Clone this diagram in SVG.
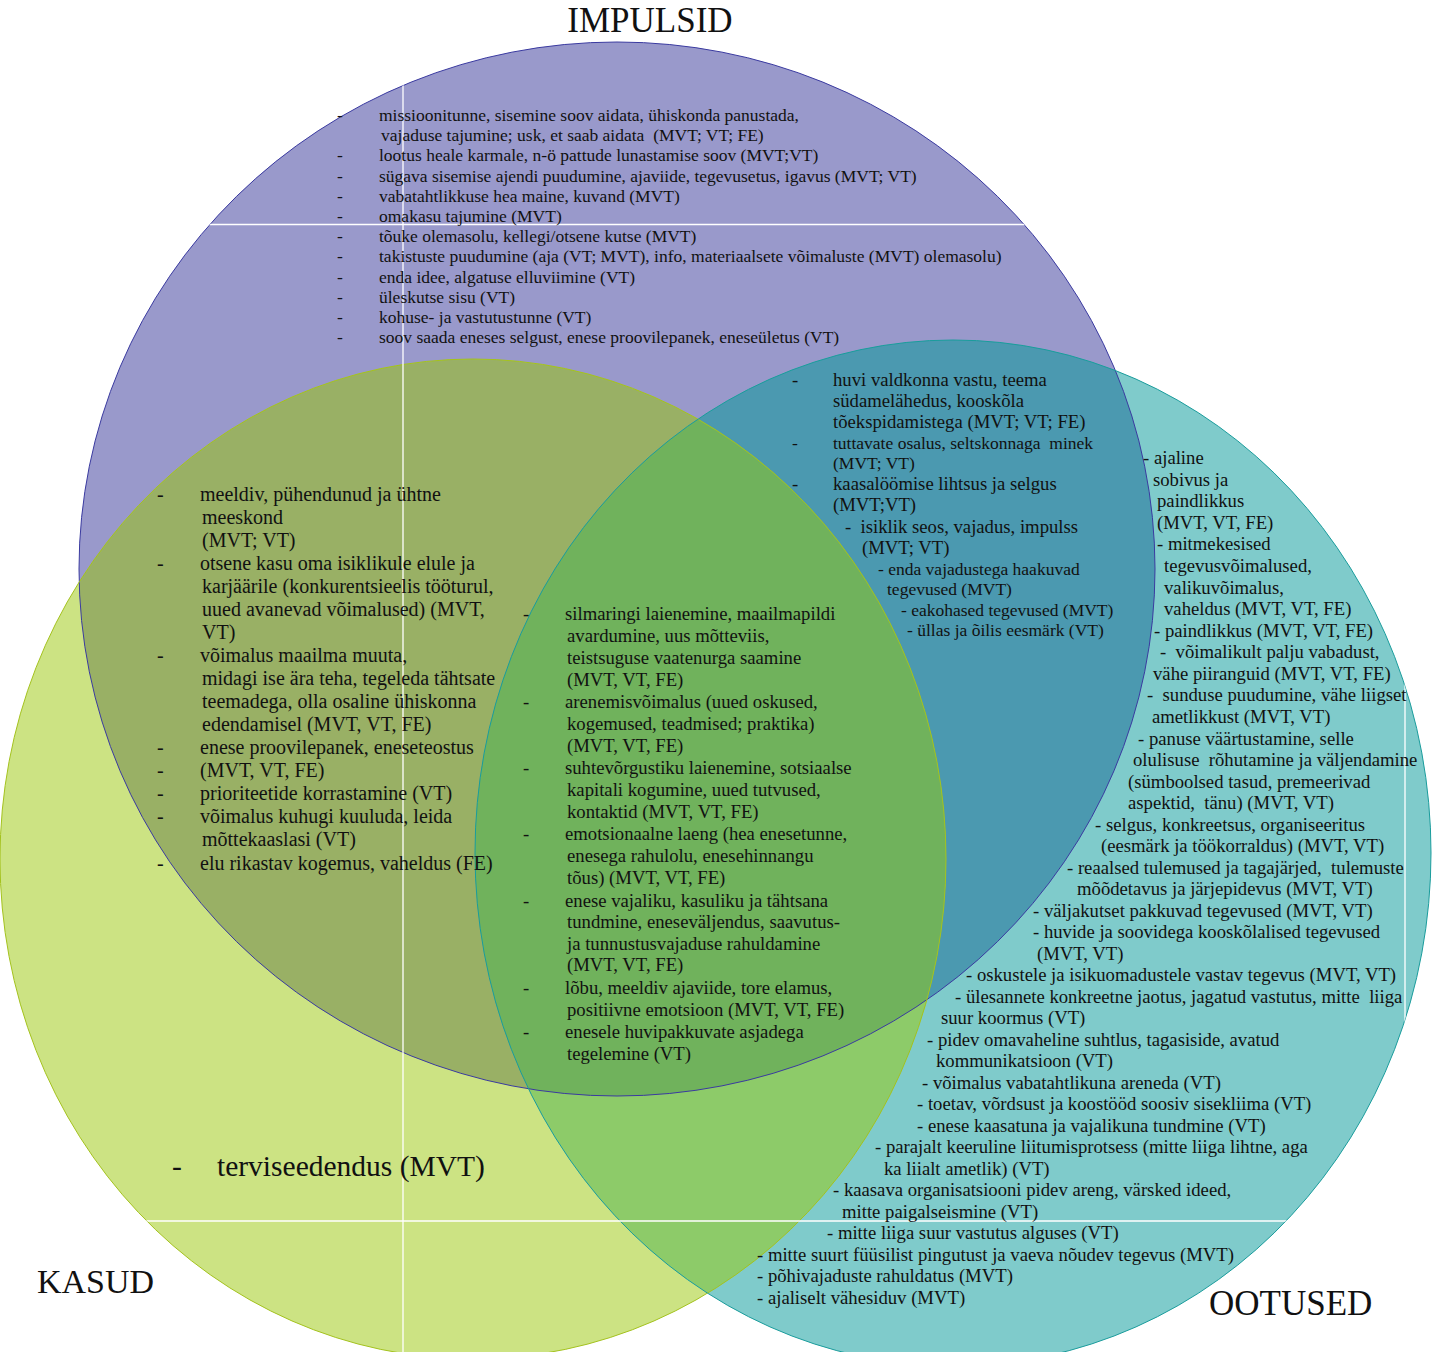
<svg xmlns="http://www.w3.org/2000/svg" width="1440" height="1352" viewBox="0 0 1440 1352">
<style>
.t{font-family:"Liberation Serif","Times New Roman",serif;fill:#111;white-space:pre}
.s17{font-size:17.5px}.s18{font-size:18.7px}.s20{font-size:20px}.big{font-size:29.5px}.lab{font-size:35px}
.grid{stroke:#fff;stroke-width:1.3;fill:none}
</style>
<defs>
<ellipse id="eP" cx="617" cy="569" rx="538" ry="527"/>
<ellipse id="eG" cx="473" cy="859" rx="473" ry="500"/>
<ellipse id="eT" cx="953" cy="853" rx="478" ry="513"/>
<clipPath id="cP"><use href="#eP"/></clipPath>
<clipPath id="cG"><use href="#eG"/></clipPath>
<clipPath id="cU"><use href="#eP"/><use href="#eG"/><use href="#eT"/></clipPath>
</defs>
<rect width="1440" height="1352" fill="#fff"/>
<g id="shapes">
<use href="#eP" fill="#9999CB"/>
<use href="#eG" fill="#CCE383"/>
<use href="#eT" fill="#7FCBCB"/>
<g clip-path="url(#cP)"><use href="#eG" fill="#99B065"/><use href="#eT" fill="#4B99B0"/></g>
<g clip-path="url(#cG)"><use href="#eT" fill="#8DCB69"/></g>
<g clip-path="url(#cP)"><g clip-path="url(#cG)"><use href="#eT" fill="#70B25C"/></g></g>
<use href="#eP" fill="none" stroke="#3A3AA0" stroke-width="1"/>
<use href="#eG" fill="none" stroke="#A4C21E" stroke-width="1"/>
<use href="#eT" fill="none" stroke="#1A9C9C" stroke-width="1"/>
<g clip-path="url(#cU)" class="grid">
<line x1="403" y1="0" x2="403" y2="1352"/>
<line x1="1405" y1="0" x2="1405" y2="1352"/>
<line x1="0" y1="224.5" x2="1440" y2="224.5"/>
<line x1="0" y1="1221" x2="1440" y2="1221"/>
</g>
</g>
<g id="impulsid">
<text class="t lab" x="650" y="32" text-anchor="middle">IMPULSID</text>
<g class="t s17">
<text y="120.5"><tspan x="337">-</tspan><tspan x="379">missioonitunne, sisemine soov aidata, ühiskonda panustada,</tspan></text>
<text y="140.5" x="381" xml:space="preserve">vajaduse tajumine; usk, et saab aidata  (MVT; VT; FE)</text>
<text y="161"><tspan x="337">-</tspan><tspan x="379">lootus heale karmale, n-ö pattude lunastamise soov (MVT;VT)</tspan></text>
<text y="181.5"><tspan x="337">-</tspan><tspan x="379">sügava sisemise ajendi puudumine, ajaviide, tegevusetus, igavus (MVT; VT)</tspan></text>
<text y="202"><tspan x="337">-</tspan><tspan x="379">vabatahtlikkuse hea maine, kuvand (MVT)</tspan></text>
<text y="222"><tspan x="337">-</tspan><tspan x="379">omakasu tajumine (MVT)</tspan></text>
<text y="242"><tspan x="337">-</tspan><tspan x="379">tõuke olemasolu, kellegi/otsene kutse (MVT)</tspan></text>
<text y="262"><tspan x="337">-</tspan><tspan x="379">takistuste puudumine (aja (VT; MVT), info, materiaalsete võimaluste (MVT) olemasolu)</tspan></text>
<text y="282.5"><tspan x="337">-</tspan><tspan x="379">enda idee, algatuse elluviimine (VT)</tspan></text>
<text y="303"><tspan x="337">-</tspan><tspan x="379">üleskutse sisu (VT)</tspan></text>
<text y="323"><tspan x="337">-</tspan><tspan x="379">kohuse- ja vastutustunne (VT)</tspan></text>
<text y="343"><tspan x="337">-</tspan><tspan x="379">soov saada eneses selgust, enese proovilepanek, eneseületus (VT)</tspan></text>
</g>
</g>
<g id="impulsid-ootused" class="t">
<text class="s18" y="386"><tspan x="792">-</tspan><tspan x="833">huvi valdkonna vastu, teema</tspan></text>
<text class="s18" y="407" x="833">südamelähedus, kooskõla</text>
<text class="s18" y="428" x="833">tõekspidamistega (MVT; VT; FE)</text>
<text class="s17" y="449" xml:space="preserve"><tspan x="792">-</tspan><tspan x="833">tuttavate osalus, seltskonnaga  minek</tspan></text>
<text class="s17" y="469" x="833">(MVT; VT)</text>
<text class="s18" y="490"><tspan x="792">-</tspan><tspan x="833">kaasalöömise lihtsus ja selgus</tspan></text>
<text class="s18" y="511" x="833">(MVT;VT)</text>
<text class="s18" y="533" x="845" xml:space="preserve">-  isiklik seos, vajadus, impulss</text>
<text class="s18" y="554" x="862">(MVT; VT)</text>
<text class="s17" y="575" x="878">- enda vajadustega haakuvad</text>
<text class="s17" y="595" x="887">tegevused (MVT)</text>
<text class="s17" y="616" x="901">- eakohased tegevused (MVT)</text>
<text class="s17" y="636" x="907">- üllas ja õilis eesmärk (VT)</text>
</g>
<g id="impulsid-kasud" class="t s20">
<text y="500.5"><tspan x="157">-</tspan><tspan x="200">meeldiv, pühendunud ja ühtne</tspan></text>
<text y="523.5" x="202">meeskond</text>
<text y="546.5" x="202">(MVT; VT)</text>
<text y="569.5"><tspan x="157">-</tspan><tspan x="200">otsene kasu oma isiklikule elule ja</tspan></text>
<text y="592.5" x="202">karjäärile (konkurentsieelis tööturul,</text>
<text y="615.5" x="202">uued avanevad võimalused) (MVT,</text>
<text y="638.5" x="202">VT)</text>
<text y="661.5"><tspan x="157">-</tspan><tspan x="200">võimalus maailma muuta,</tspan></text>
<text y="684.5" x="202">midagi ise ära teha, tegeleda tähtsate</text>
<text y="707.5" x="202">teemadega, olla osaline ühiskonna</text>
<text y="730.5" x="202">edendamisel (MVT, VT, FE)</text>
<text y="753.5"><tspan x="157">-</tspan><tspan x="200">enese proovilepanek, eneseteostus</tspan></text>
<text y="777"><tspan x="157">-</tspan><tspan x="200">(MVT, VT, FE)</tspan></text>
<text y="799.5"><tspan x="157">-</tspan><tspan x="200">prioriteetide korrastamine (VT)</tspan></text>
<text y="823"><tspan x="157">-</tspan><tspan x="200">võimalus kuhugi kuuluda, leida</tspan></text>
<text y="845.5" x="202">mõttekaaslasi (VT)</text>
<text y="869.5"><tspan x="157">-</tspan><tspan x="200">elu rikastav kogemus, vaheldus (FE)</tspan></text>
</g>
<g id="koik" class="t s18">
<text y="620"><tspan x="523">-</tspan><tspan x="565">silmaringi laienemine, maailmapildi</tspan></text>
<text y="642" x="567">avardumine, uus mõtteviis,</text>
<text y="664" x="567">teistsuguse vaatenurga saamine</text>
<text y="685.5" x="567">(MVT, VT, FE)</text>
<text y="708"><tspan x="523">-</tspan><tspan x="565">arenemisvõimalus (uued oskused,</tspan></text>
<text y="729.5" x="567">kogemused, teadmised; praktika)</text>
<text y="751.5" x="567">(MVT, VT, FE)</text>
<text y="774"><tspan x="523">-</tspan><tspan x="565">suhtevõrgustiku laienemine, sotsiaalse</tspan></text>
<text y="796" x="567">kapitali kogumine, uued tutvused,</text>
<text y="817.5" x="567">kontaktid (MVT, VT, FE)</text>
<text y="840"><tspan x="523">-</tspan><tspan x="565">emotsionaalne laeng (hea enesetunne,</tspan></text>
<text y="862" x="567">enesega rahulolu, enesehinnangu</text>
<text y="883.5" x="567">tõus) (MVT, VT, FE)</text>
<text y="906.5"><tspan x="523">-</tspan><tspan x="565">enese vajaliku, kasuliku ja tähtsana</tspan></text>
<text y="928" x="567">tundmine, eneseväljendus, saavutus-</text>
<text y="949.5" x="567">ja tunnustusvajaduse rahuldamine</text>
<text y="971" x="567">(MVT, VT, FE)</text>
<text y="994"><tspan x="523">-</tspan><tspan x="565">lõbu, meeldiv ajaviide, tore elamus,</tspan></text>
<text y="1015.5" x="567">positiivne emotsioon (MVT, VT, FE)</text>
<text y="1038"><tspan x="523">-</tspan><tspan x="565">enesele huvipakkuvate asjadega</tspan></text>
<text y="1059.5" x="567">tegelemine (VT)</text>
</g>
<g id="kasud">
<text class="t lab" x="37" y="1293" style="font-size:34px">KASUD</text>
<text class="t big" y="1176"><tspan x="172">-</tspan><tspan x="217">terviseedendus (MVT)</tspan></text>
</g>
<g id="ootused" class="t s18">
<text class="lab" x="1209" y="1315">OOTUSED</text>
<text x="1143" y="464">- ajaline</text>
<text x="1153" y="485.5">sobivus ja</text>
<text x="1157" y="507">paindlikkus</text>
<text x="1157" y="528.5">(MVT, VT, FE)</text>
<text x="1157" y="550">- mitmekesised</text>
<text x="1164" y="572">tegevusvõimalused,</text>
<text x="1164" y="593.5">valikuvõimalus,</text>
<text x="1164" y="615">vaheldus (MVT, VT, FE)</text>
<text x="1154" y="636.5">- paindlikkus (MVT, VT, FE)</text>
<text x="1160" y="658" xml:space="preserve">-  võimalikult palju vabadust,</text>
<text x="1153" y="679.5">vähe piiranguid (MVT, VT, FE)</text>
<text x="1147" y="701" xml:space="preserve">-  sunduse puudumine, vähe liigset</text>
<text x="1152" y="723">ametlikkust (MVT, VT)</text>
<text x="1138" y="744.5">- panuse väärtustamine, selle</text>
<text x="1133" y="766" xml:space="preserve">olulisuse  rõhutamine ja väljendamine</text>
<text x="1128" y="787.5">(sümboolsed tasud, premeerivad</text>
<text x="1128" y="809" xml:space="preserve">aspektid,  tänu) (MVT, VT)</text>
<text x="1095" y="830.5">- selgus, konkreetsus, organiseeritus</text>
<text x="1101" y="852">(eesmärk ja töökorraldus) (MVT, VT)</text>
<text x="1067" y="873.5" xml:space="preserve">- reaalsed tulemused ja tagajärjed,  tulemuste</text>
<text x="1077" y="895">mõõdetavus ja järjepidevus (MVT, VT)</text>
<text x="1033" y="916.5">- väljakutset pakkuvad tegevused (MVT, VT)</text>
<text x="1033" y="938">- huvide ja soovidega kooskõlalised tegevused</text>
<text x="1037" y="959.5">(MVT, VT)</text>
<text x="966" y="981">- oskustele ja isikuomadustele vastav tegevus (MVT, VT)</text>
<text x="955" y="1002.5" xml:space="preserve">- ülesannete konkreetne jaotus, jagatud vastutus, mitte  liiga</text>
<text x="941" y="1024">suur koormus (VT)</text>
<text x="927" y="1045.5">- pidev omavaheline suhtlus, tagasiside, avatud</text>
<text x="936" y="1067">kommunikatsioon (VT)</text>
<text x="922" y="1088.5">- võimalus vabatahtlikuna areneda (VT)</text>
<text x="917" y="1110">- toetav, võrdsust ja koostööd soosiv sisekliima (VT)</text>
<text x="917" y="1131.5">- enese kaasatuna ja vajalikuna tundmine (VT)</text>
<text x="875" y="1153">- parajalt keeruline liitumisprotsess (mitte liiga lihtne, aga</text>
<text x="884" y="1174.5">ka liialt ametlik) (VT)</text>
<text x="833" y="1196">- kaasava organisatsiooni pidev areng, värsked ideed,</text>
<text x="842" y="1217.5">mitte paigalseismine (VT)</text>
<text x="827" y="1239">- mitte liiga suur vastutus alguses (VT)</text>
<text x="757" y="1260.5">- mitte suurt füüsilist pingutust ja vaeva nõudev tegevus (MVT)</text>
<text x="757" y="1282">- põhivajaduste rahuldatus (MVT)</text>
<text x="757" y="1303.5">- ajaliselt vähesiduv (MVT)</text>
</g>
</svg>
